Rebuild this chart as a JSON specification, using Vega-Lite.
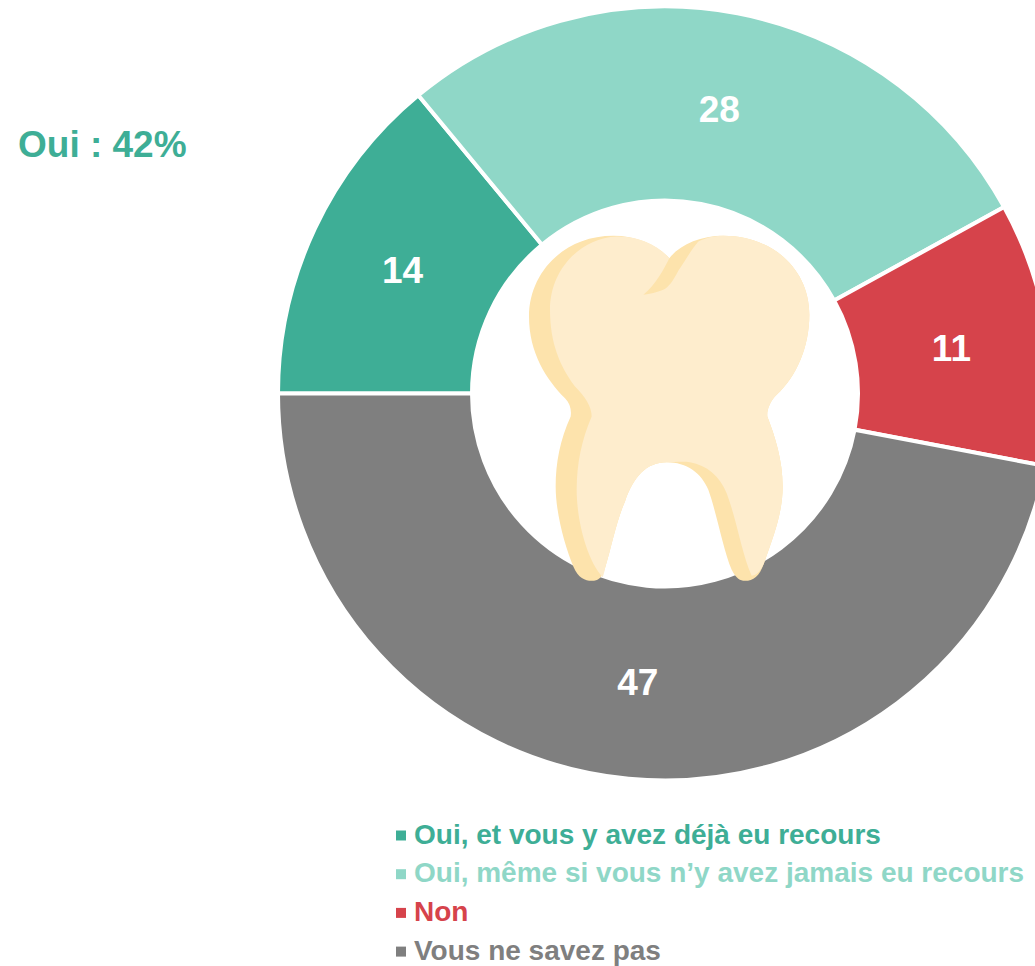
{
"$schema":"https://vega.github.io/schema/vega-lite/v6.json",
"width":770,"height":770,
"autosize":{"type":"none"},
"padding":{"left":280,"top":8.5,"right":-15,"bottom":187.5},
"background":"white",
"config":{"view":{"stroke":null}},
"title":{"text":"Oui : 42%","anchor":"start","frame":"group","dx":-262,"dy":195,"offset":0,"baseline":"alphabetic","font":"Liberation Sans","fontSize":37,"fontWeight":"bold","color":"#3EAE96"},
"datasets":{
"slices":[
{"cat":"Oui, et vous y avez déjà eu recours","val":14,"rank":1},
{"cat":"Oui, même si vous n’y avez jamais eu recours","val":28,"rank":2},
{"cat":"Non","val":11,"rank":3},
{"cat":"Vous ne savez pas","val":47,"rank":4}
],
"icon":[{"icon":"dent"}]
},
"layer":[
{
"data":{"name":"slices"},
"mark":{"type":"arc","outerRadius":387,"innerRadius":193,"stroke":"white","strokeWidth":4},
"encoding":{
"theta":{"field":"val","type":"quantitative","stack":true,"scale":{"domain":[0,100],"range":[4.712389,10.995574]}},
"order":{"field":"rank","type":"quantitative"},
"color":{"field":"cat","type":"nominal","sort":null,
"scale":{"domain":["Oui, et vous y avez déjà eu recours","Oui, même si vous n’y avez jamais eu recours","Non","Vous ne savez pas"],"range":["#3EAE96","#8FD7C7","#D6434B","#7F7F7F"]},
"legend":{"title":null,"orient":"none","legendX":107,"legendY":813,"symbolType":"square","symbolSize":100,"symbolStrokeWidth":0,"labelFont":"Liberation Sans","labelFontSize":28,"labelFontWeight":"bold","labelLimit":800,"labelOffset":-1,"rowPadding":10.7,"padding":0,
"labelColor":{"expr":"scale('color', datum.value)"}}
}
}
},
{
"data":{"name":"icon"},
"mark":{"type":"point","filled":true,"opacity":1,"fill":"#FDE3AC","strokeWidth":0,"size":0.44444,
"shape":"M13 -406 C-25 -446 -85 -473 -155 -473 C-305 -473 -408 -361 -408 -231 C-408 -121 -355 -41 -300 14 C-285 29 -280 49 -283 69 C-315 139 -328 209 -328 279 C-328 359 -300 459 -275 519 C-260 554 -240 562 -220 562 C-200 562 -190 554 -180 524 C-160 459 -145 379 -120 324 C-95 249 -55 206 5 206 C65 206 110 239 130 289 C155 359 175 469 200 529 C215 557 225 562 240 562 C265 562 283 549 297 509 C325 429 353 359 353 279 C353 199 330 129 307 69 C305 49 315 24 335 4 C395 -51 433 -141 433 -236 C433 -371 325 -473 175 -473 C105 -473 45 -446 13 -406 Z"},
"encoding":{}
},
{
"data":{"name":"icon"},
"mark":{"type":"point","filled":true,"opacity":1,"fill":"#FEEDCD","strokeWidth":0,"size":0.44444,
"shape":"M13 -406 C-25 -446 -75 -471 -145 -471 C-255 -466 -345 -371 -345 -251 C-345 -151 -315 -81 -270 -21 C-240 9 -220 39 -220 69 C-250 139 -265 209 -265 289 C-265 379 -235 499 -187 551 C-183 539 -180 529 -180 524 C-160 459 -145 379 -120 324 C-95 249 -55 206 5 206 C25 206 55 204 75 206 C125 214 165 249 185 299 C215 379 230 479 260 547 C280 544 290 524 297 509 C325 429 353 359 353 279 C353 199 330 129 307 69 C305 49 315 24 335 4 C395 -51 433 -141 433 -236 C433 -371 325 -473 175 -473 C145 -473 120 -466 100 -456 C80 -433 60 -398 40 -368 C25 -338 10 -318 -5 -311 C-25 -303 -45 -298 -65 -296 C-25 -331 -5 -371 13 -406 Z"},
"encoding":{}
},
{
"data":{"name":"slices"},
"mark":{"type":"text","font":"Liberation Sans","fontSize":37,"fontWeight":"bold","fill":"white","radius":290,"dy":2},
"encoding":{
"theta":{"field":"val","type":"quantitative","stack":true},
"order":{"field":"rank","type":"quantitative"},
"detail":{"field":"cat"},
"text":{"field":"val","type":"quantitative"}
}
}
]
}
